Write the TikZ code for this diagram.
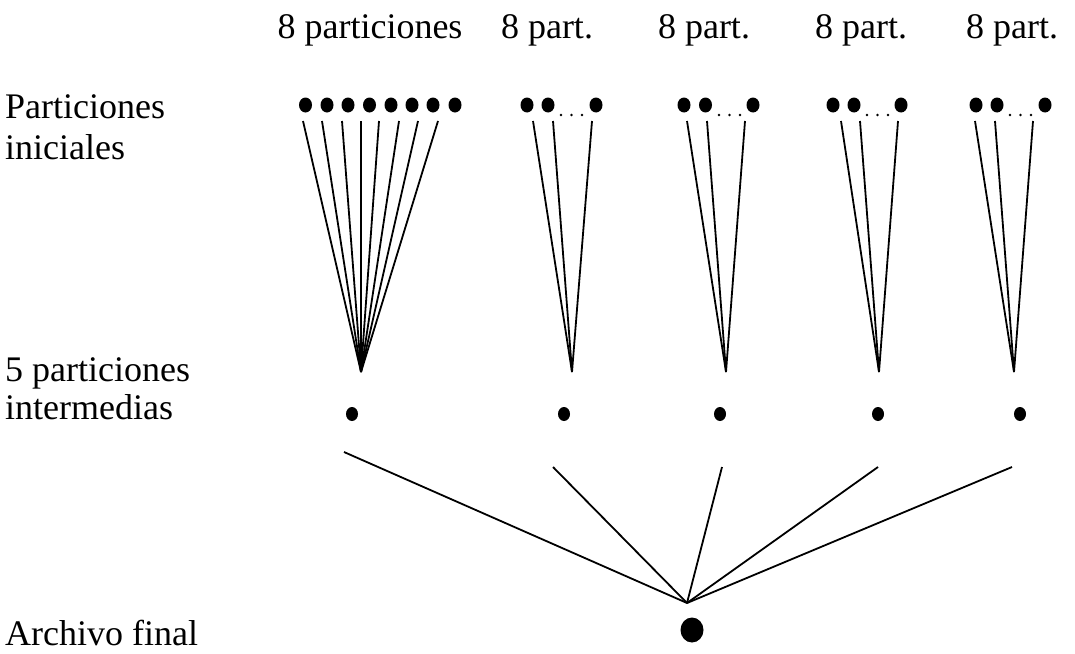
\documentclass[tikz,border=0pt]{standalone}
\usepackage{fontspec}
\setmainfont{Liberation Serif}
\usetikzlibrary{shapes.geometric}
\begin{document}
\begin{tikzpicture}[x=1pt,y=-1pt,
  lbl/.style={font=\fontsize{36}{43}\selectfont, inner sep=0pt},
  bigdot/.style={ellipse, fill=black, inner sep=0pt, minimum width=13, minimum height=15},
  middot/.style={ellipse, fill=black, inner sep=0pt, minimum width=12, minimum height=14},
  enddot/.style={ellipse, fill=black, inner sep=0pt, minimum width=23, minimum height=25},
  tinydot/.style={circle, fill=black, inner sep=0pt, minimum size=2.6},
  conn/.style={line width=1.8pt}]
\useasboundingbox (0,0) rectangle (1075,653);
% top labels
\node[lbl, anchor=base] (t1) at (370,38) {8 particiones};
\node[lbl, anchor=base] (t2) at (547,38) {8 part.};
\node[lbl, anchor=base] (t3) at (704,38) {8 part.};
\node[lbl, anchor=base] (t4) at (861,38) {8 part.};
\node[lbl, anchor=base] (t5) at (1012,38) {8 part.};
% left labels
\node[lbl, anchor=base west] (l1) at (5,118) {Particiones};
\node[lbl, anchor=base west] (l2) at (5,159) {iniciales};
\node[lbl, anchor=base west] (l3) at (5,381) {5 particiones};
\node[lbl, anchor=base west] (l4) at (5,419) {intermedias};
\node[lbl, anchor=base west] (l5) at (5,645) {Archivo final};
% group 1 dots
\foreach \x [count=\i] in {305.5,327,348,369.5,391,412,433,455}
  \node[bigdot] (a\i) at (\x,105) {};
% groups 2-5 dots
\foreach \g/\xa/\xb/\xc in {2/527/548/596, 3/684/705.5/753, 4/833/854/901, 5/976/997/1045}{
  \node[bigdot] (g\g a) at (\xa,105) {};
  \node[bigdot] (g\g b) at (\xb,105) {};
  \node[bigdot] (g\g c) at (\xc,105) {};
}
\foreach \g/\xa in {2/561, 3/719, 4/867, 5/1010}{
  \foreach \k in {0,1,2}
    \node[tinydot] (s\g\k) at (\xa+10.5*\k,115) {};
}
% convergence points
\coordinate (c1) at (361,372);
\coordinate (c2) at (572,372);
\coordinate (c3) at (726,372);
\coordinate (c4) at (879,372);
\coordinate (c5) at (1014,372);
% group 1 lines
\foreach \x [count=\i] in {303,322,342,361,379,399,418,438}{
  \coordinate (p1\i) at (\x,121);
  \draw[conn] (p1\i) -- (c1);
}
% groups 2-5 lines
\foreach \g/\xa/\xb/\xc in {2/533/553/592, 3/687/707/745, 4/841/860/898, 5/975/995/1033}{
  \coordinate (p\g a) at (\xa,121);
  \coordinate (p\g b) at (\xb,121);
  \coordinate (p\g c) at (\xc,121);
  \draw[conn] (p\g a) -- (c\g);
  \draw[conn] (p\g b) -- (c\g);
  \draw[conn] (p\g c) -- (c\g);
}
% intermediate dots
\foreach \x [count=\i] in {352,564,720,878,1020}
  \node[middot] (m\i) at (\x,414) {};
% bottom lines
\coordinate (f) at (687,603);
\coordinate (q1) at (344,452);
\coordinate (q2) at (553,467);
\coordinate (q3) at (722,467);
\coordinate (q4) at (878,467);
\coordinate (q5) at (1012,467);
\foreach \i in {1,...,5}
  \draw[conn] (q\i) -- (f);
\node[enddot] (fin) at (692,630) {};
\end{tikzpicture}
\end{document}
